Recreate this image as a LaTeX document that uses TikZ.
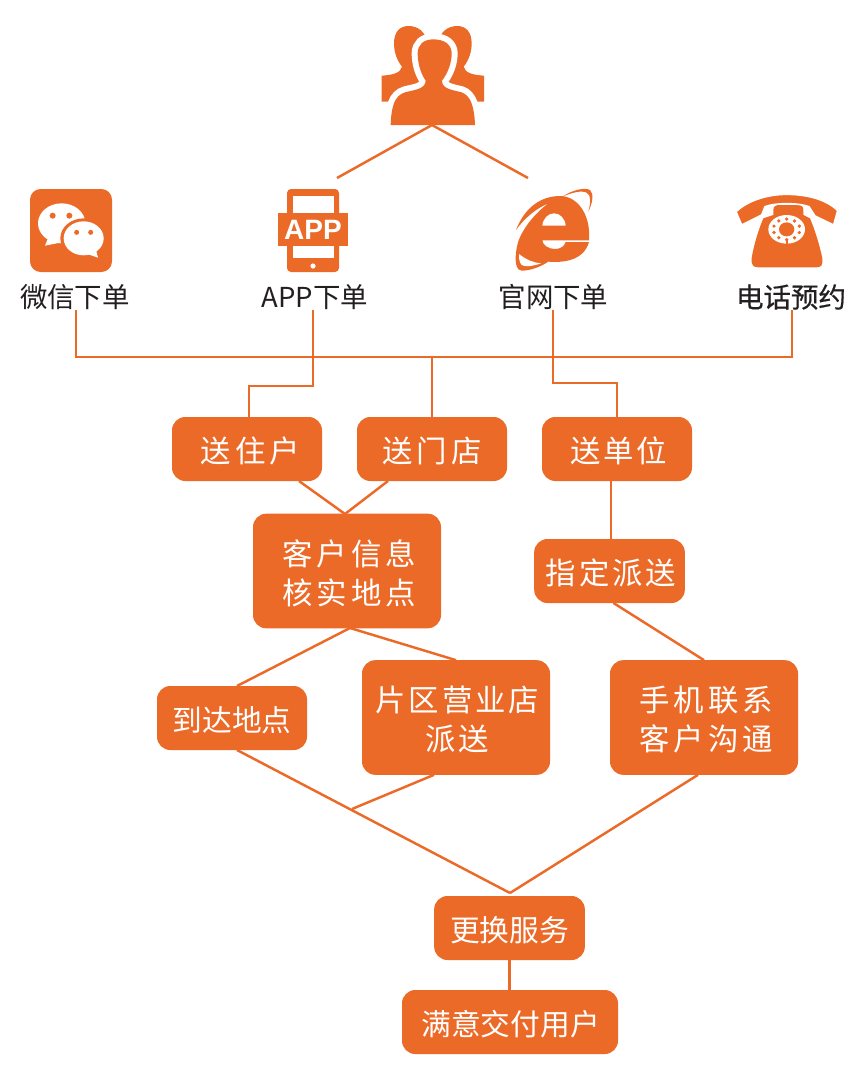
\documentclass[tikz,border=0pt]{standalone}
\usepackage{fontspec}
\usetikzlibrary{calc}
\setmainfont{Noto Sans CJK SC}
\newfontfamily\boxfont{Noto Sans CJK SC}
\newfontfamily\widefont[LetterSpace=13.5]{Noto Sans CJK SC}
\newfontfamily\midfont[LetterSpace=9]{Noto Sans CJK SC}
\newfontfamily\medfont[FakeBold=0.6]{Noto Sans CJK SC}
\newfontfamily\appfont{Liberation Sans}
\definecolor{brand}{HTML}{EC6A28}
\definecolor{inkdark}{HTML}{231F20}
\newcommand{\boxline}[2][3pt]{\hspace*{#1}\raisebox{-1.5pt}[\height][\depth]{#2}}
\tikzset{
  link/.style={draw=brand,line width=1.85pt,line join=miter},
  tile/.style={fill=brand,rounded corners=10pt,text=white,inner sep=0pt,outer sep=0pt,align=center,
     font=\boxfont\fontsize{22.3}{29.25}\selectfont},
  widetile/.style={tile,font=\widefont\fontsize{22.8}{29.25}\selectfont},
  midtile/.style={tile,font=\midfont\fontsize{22.8}{29.25}\selectfont},
  wide150/.style={minimum width=112.5pt,minimum height=48pt},
  wide188/.style={minimum width=141pt,minimum height=86pt},
  caption/.style={text=inkdark,inner sep=0pt,font=\boxfont\fontsize{20.6}{24}\selectfont},
  fillb/.style={fill=brand,draw=none},
  zoomE/.style={shift={(505,180)},x=.25pt,y=-.25pt},
  zoomT/.style={shift={(735,190)},x=.25pt,y=-.25pt},
  zoomB/.style={shift={(10,175)},x=.25pt,y=-.25pt},
  zoomC/.style={shift={(370,10)},x=.25pt,y=-.25pt}
}
\begin{document}
\begin{tikzpicture}[x=.75pt,y=-.75pt]
\useasboundingbox (0,0) rectangle (864,1076);

% people icon
\begin{scope}[zoomC]
 \path[fillb] (35,275) -- (35,197) .. controls (65,195) and (92,190) .. (96,170) .. controls (80,150) and (72,125) .. (72,100) .. controls (72,65) and (90,48) .. (115,48) .. controls (145,48) and (165,65) .. (175,100) -- (175,275) -- cycle;
 \path[fillb] (342,275) -- (342,197) .. controls (312,195) and (285,190) .. (281,170) .. controls (297,150) and (305,125) .. (305,100) .. controls (305,65) and (287,48) .. (262,48) .. controls (232,48) and (212,65) .. (202,100) -- (202,275) -- cycle;
 \path[fill=brand,draw=white,line width=9pt] (62,345) .. controls (64,292) and (72,257) .. (105,247) .. controls (130,240) and (167,238) .. (167,212) .. controls (152,190) and (143,160) .. (143,130) .. controls (143,105) and (160,88) .. (190,88) .. controls (225,88) and (245,105) .. (245,130) .. controls (245,160) and (233,190) .. (216,212) .. controls (216,238) and (250,240) .. (275,247) .. controls (303,257) and (313,292) .. (315,345) -- cycle;
 \path[fillb] (62,345) .. controls (64,292) and (72,257) .. (105,247) .. controls (130,240) and (167,238) .. (167,212) .. controls (152,190) and (143,160) .. (143,130) .. controls (143,105) and (160,88) .. (190,88) .. controls (225,88) and (245,105) .. (245,130) .. controls (245,160) and (233,190) .. (216,212) .. controls (216,238) and (250,240) .. (275,247) .. controls (303,257) and (313,292) .. (315,345) -- cycle;
\end{scope}
\coordinate (people) at (432,125);
\coordinate (appEnd) at (337,178);
\coordinate (ieEnd) at (528,178);
\draw[link] (appEnd) -- (people) -- (ieEnd);

% wechat icon
\fill[brand,rounded corners=8pt] (30,189) rectangle (112,272);
\begin{scope}[zoomB]
 \fill[white] (155,145) ellipse [x radius=71,y radius=60];
 \fill[white] (105,212) -- (118,180) -- (150,203) -- cycle;
 \fill[brand] (221,190) ellipse [x radius=70,y radius=60];
 \fill[white] (221,190) ellipse [x radius=60,y radius=51];
 \fill[white] (264,248) -- (258,225) -- (235,238) -- cycle;
 \fill[brand] (128,122) circle [radius=9] (178,122) circle [radius=9];
 \fill[brand] (200,172) circle [radius=7.5] (242,172) circle [radius=7.5];
\end{scope}

% app icon
\fill[brand,rounded corners=3pt] (287,189) rectangle (339,272);
\fill[white] (293,196) rectangle (334,258);
\fill[brand] (278,213) rectangle (348,246);
\fill[white] (313,266) circle [radius=2.6];
\node[text=white,inner sep=0pt,font=\appfont\bfseries\fontsize{21}{24}\selectfont] (apptext) at (313,230) {APP};

% ie icon
\begin{scope}[zoomE]
 \path[fillb] (252,181) .. controls (258,100) and (215,48) .. (165,48) .. controls (110,48) and (60,80) .. (33,150) .. controls (60,112) and (95,85) .. (130,70) .. controls (90,100) and (58,140) .. (42,178) .. controls (32,205) and (22,270) .. (50,272) .. controls (80,272) and (110,258) .. (130,245) .. controls (170,248) and (235,245) .. (252,186) -- (182,186) .. controls (178,200) and (165,207) .. (150,207) .. controls (130,207) and (113,195) .. (112,181) -- cycle;
 \fill[white] (112,137) .. controls (114,115) and (130,100) .. (147,100) .. controls (165,100) and (180,115) .. (182,137) -- cycle;
 \fill[white] (42,222) .. controls (65,240) and (85,248) .. (108,250) .. controls (85,258) and (60,262) .. (50,255) .. controls (42,245) and (42,235) .. (42,222) -- cycle;
 \path[fillb] (172,50) .. controls (205,28) and (240,22) .. (255,30) .. controls (268,42) and (262,70) .. (250,95) .. controls (258,65) and (258,45) .. (245,38) .. controls (230,30) and (200,38) .. (172,50) -- cycle;
\end{scope}

% telephone icon
\begin{scope}[zoomT]
 \path[fillb] (115,75) -- (115,60) .. controls (115,50) and (122,45) .. (132,45) -- (190,45) .. controls (200,45) and (205,50) .. (205,60) -- (205,75) -- (225,85) .. controls (240,120) and (255,170) .. (262,205) .. controls (265,225) and (258,232) .. (245,232) -- (70,232) .. controls (55,232) and (48,225) .. (50,205) .. controls (55,170) and (70,120) .. (85,85) -- cycle;
 \path[fill=brand,draw=white,line width=1.2pt] (3,65) .. controls (40,30) and (100,13) .. (155,13) .. controls (215,13) and (275,28) .. (308,62) -- (296,105) -- (240,78) -- (222,50) .. controls (190,38) and (120,38) .. (90,50) -- (80,75) -- (20,105) -- cycle;
 \fill[white] (155,118) ellipse [x radius=55,y radius=43];
 \fill[brand] (155,118) ellipse [x radius=23,y radius=21];
 \foreach \a in {0,36,72,108,144,180,216,252,288,324}
   \fill[brand] ({155+40*cos(\a+18)},{118+31*sin(\a+18)}) circle [radius=5.5];
 \fill[brand] (152,150) rectangle (158,165);
\end{scope}

% captions
\node[caption] (capW) at (75,297) {微信下单};
\node[caption] (capA) at (315,297) {APP下单};
\node[caption] (capI) at (553.5,297) {官网下单};
\node[caption,font=\medfont\fontsize{20.6}{24}\selectfont] (capT) at (791,297) {电话预约};

% boxes
\node[widetile,wide150] (songzhu) at (247,449) {\boxline[5.5pt]{送住户}};
\node[widetile,wide150] (songmen) at (432,449) {\boxline[0pt]{送门店}};
\node[midtile,wide150] (songdan) at (617,449) {\boxline{送单位}};
\node[widetile,wide188] (kehu) at (347,571) {\boxline{客户信息}\\\boxline{核实地点}};
\node[midtile,minimum width=113pt,minimum height=48pt] (zhiding) at (609.5,571) {\boxline[2pt]{指定派送}};
\node[tile,wide150] (daoda) at (232,718) {\boxline[0pt]{到达地点}};
\node[midtile,wide188] (pianqu) at (456,717.5) {\boxline[2pt]{片区营业店}\\\boxline[2pt]{派送}};
\node[widetile,wide188] (shouji) at (704,717.5) {\boxline{手机联系}\\\boxline{客户沟通}};
\node[tile,minimum width=113pt,minimum height=48pt] (genghuan) at (509.5,928) {\boxline[0pt]{更换服务}};
\node[tile,minimum width=162pt,minimum height=48pt] (manyi) at (510,1022) {\boxline[1pt]{满意交付用户}};

% connectors
\coordinate (bus) at (432,357);
\coordinate (busW) at (76,357);
\coordinate (busT) at (792,357);
\draw[link] (capW.south -| busW) -- (busW) -- (busT) -- (capT.south -| busT);
\draw[link] ([xshift=-1.5pt]capA.south) -- ++(0,76) -| ([xshift=1.5pt]songzhu.north);
\draw[link] ([xshift=-.4pt]capI.south) -- ++(0,73) -| (songdan.north);
\draw[link] (bus) -- (songmen.north);
\coordinate (merge) at (345,514);
\draw[link] ([xshift=39pt]songzhu.south) -- (merge) -- ([xshift=-33pt]songmen.south);
\draw[link] ([xshift=-4.5pt]songdan.south) -- ([xshift=-4.5pt]songdan.south |- zhiding.north);
\draw[link] ([xshift=3pt]zhiding.south) -- (shouji.north);
\coordinate (split) at (350,628);
\draw[link] ([xshift=3.75pt]daoda.north) -- (split) -- (pianqu.north);
\coordinate (joinA) at (510,893);
\coordinate (joinB) at (352,809);
\draw[link] ([xshift=3.75pt]daoda.south) -- (joinA);
\draw[link] ([xshift=-16.5pt]pianqu.south) -- (joinB);
\draw[link] ([xshift=-4.5pt]shouji.south) -- (joinA);
\draw[link] (genghuan.south) -- (genghuan.south |- manyi.north);
\end{tikzpicture}
\end{document}
